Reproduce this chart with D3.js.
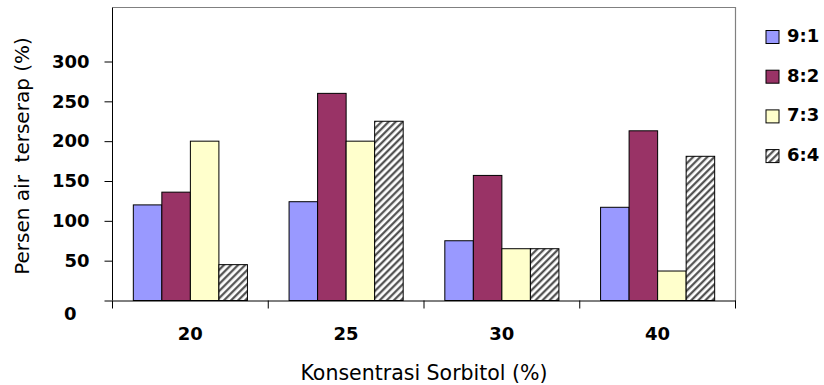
<!DOCTYPE html>
<html>
<head>
<meta charset="utf-8">
<script src="https://cdn.jsdelivr.net/npm/d3@7"></script>
<style>
  html, body { margin: 0; padding: 0; background: #fff; }
  svg { display: block; }
  text { white-space: pre; }
</style>
</head>
<body>
<svg id="chart" width="824" height="385"></svg>
<script>
// ---- data ----
const categories = ["20", "25", "30", "40"];
const seriesNames = ["9:1", "8:2", "7:3", "6:4"];
const s91 = [120, 124, 75, 117];
const s82 = [136, 260, 157, 213];
const s73 = [200, 200, 65, 37];
const s64 = [45, 225, 65, 181];
const yTicks = [0, 50, 100, 150, 200, 250, 300];
const xTitle = "Konsentrasi Sorbitol (%)";
const yTitle = "Persen air  terserap (%)";

const seriesValues = [s91, s82, s73, s64];
const fills = ["#9999FF", "#993366", "#FFFFCC", "url(#hatch)"];

const svg = d3.select("#chart");
const plot = { left: 112.5, right: 735.5, top: 7.5, bottom: 300.5 };
const FONT = "'DejaVu Sans', Verdana, sans-serif";

// hatch pattern
const defs = svg.append("defs");
const pat = defs.append("pattern")
  .attr("id", "hatch")
  .attr("patternUnits", "userSpaceOnUse")
  .attr("width", 5).attr("height", 5)
  .attr("patternTransform", "rotate(45)");
pat.append("rect").attr("width", 5).attr("height", 5).attr("fill", "#fff");
pat.append("line").attr("x1", 1.25).attr("y1", 0).attr("x2", 1.25).attr("y2", 5)
  .attr("stroke", "#444").attr("stroke-width", 2.1);

const x0 = d3.scaleBand().domain(categories).range([plot.left, plot.right]).paddingInner(0).paddingOuter(0);
const x1 = d3.scaleBand().domain(seriesNames).range([0, x0.bandwidth()]).paddingInner(0).paddingOuter(0.73);
const y = d3.scaleLinear().domain([0, 300]).range([plot.bottom, 61.5]);

// plot frame (top & right gray)
svg.append("path")
  .attr("d", `M${plot.left},${plot.top}H${plot.right}V${plot.bottom}`)
  .attr("fill", "none").attr("stroke", "#808080").attr("stroke-width", 1.2);

// bars
const groups = svg.append("g").selectAll("g")
  .data(categories)
  .join("g")
  .attr("transform", d => `translate(${x0(d)},0)`);

groups.selectAll("rect")
  .data((c, ci) => seriesNames.map((s, si) => ({ s, si, v: seriesValues[si][ci] })))
  .join("rect")
  .attr("x", d => x1(d.s))
  .attr("width", x1.bandwidth())
  .attr("y", d => y(d.v))
  .attr("height", d => y(0) - y(d.v))
  .attr("fill", d => fills[d.si])
  .attr("stroke", "#000")
  .attr("stroke-width", 1);

// y axis
const yAxis = svg.append("g")
  .attr("transform", `translate(${plot.left},0)`)
  .call(d3.axisLeft(y).tickValues(yTicks).tickSize(8).tickPadding(15).tickSizeOuter(0));
yAxis.select(".domain").attr("d", `M0,${plot.top}V${plot.bottom}`).attr("stroke", "#000");
yAxis.selectAll("text")
  .attr("font-family", FONT)
  .attr("font-size", 18).attr("font-weight", "bold").attr("fill", "#000");
yAxis.selectAll(".tick").filter(d => d === 0).select("text")
  .attr("dx", -13).attr("dy", "1.05em");

// x axis
const xAxis = svg.append("g")
  .attr("transform", `translate(0,${plot.bottom})`)
  .call(d3.axisBottom(x0).tickSize(0).tickPadding(27));
xAxis.select(".domain").attr("stroke", "#000");
xAxis.selectAll("text")
  .attr("font-family", FONT)
  .attr("font-size", 18).attr("font-weight", "bold").attr("fill", "#000");
// boundary ticks
const bounds = categories.map(c => x0(c)).concat([x0(categories[categories.length - 1]) + x0.bandwidth()]);
xAxis.selectAll("line.bound").data(bounds).join("line")
  .attr("class", "bound")
  .attr("x1", d => d).attr("x2", d => d)
  .attr("y1", 0).attr("y2", 8)
  .attr("stroke", "#000");

// axis titles
svg.append("text")
  .attr("x", (plot.left + plot.right) / 2).attr("y", 380)
  .attr("text-anchor", "middle")
  .attr("font-family", FONT)
  .attr("font-size", 20.5).attr("fill", "#000")
  .text(xTitle);

svg.append("text")
  .attr("transform", `translate(29,${(plot.top + plot.bottom) / 2 + 2}) rotate(-90)`)
  .attr("text-anchor", "middle")
  .attr("font-family", FONT)
  .attr("font-size", 20).attr("fill", "#000")
  .text(yTitle);

// legend
const legend = svg.append("g").selectAll("g")
  .data(seriesNames)
  .join("g")
  .attr("transform", (d, i) => `translate(766,${30.5 + i * 39.7})`);
legend.append("rect")
  .attr("width", 13).attr("height", 13)
  .attr("fill", (d, i) => fills[i])
  .attr("stroke", "#000").attr("stroke-width", 1);
legend.append("text")
  .attr("x", 21).attr("y", 11.5)
  .attr("font-family", FONT)
  .attr("font-size", 18).attr("font-weight", "bold").attr("fill", "#000")
  .text(d => d);
</script>
</body>
</html>
